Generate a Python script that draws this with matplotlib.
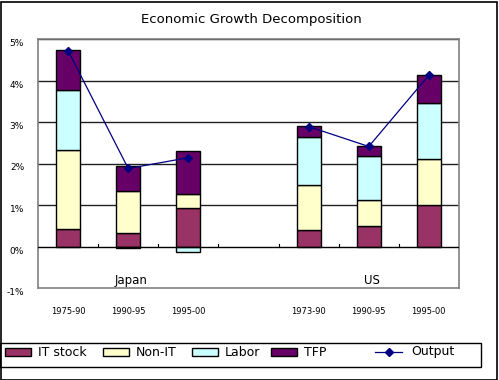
"""
    stacked growth decomposition, Japan vs US, with output line
"""

import numpy as np
import matplotlib
matplotlib.use("Agg")
from matplotlib import pyplot as plt
from matplotlib.patches import Rectangle
from matplotlib.lines import Line2D

# categories (4th slot is an empty spacer between Japan and US)
periods = ["1975-90", "1990-95", "1995-00", "", "1973-90", "1990-95", "1995-00"]
groups = ["Japan", "US"]
group_pos = [1, 5]

# contributions in % points, nan for the spacer
it_stock = [0.42, 0.32, 0.93, np.nan, 0.40, 0.49, 1.00]
non_it = [1.90, 1.01, 0.33, np.nan, 1.08, 0.63, 1.11]
labor = [1.44, -0.04, -0.13, np.nan, 1.16, 1.06, 1.35]
tfp = [0.97, 0.60, 1.04, np.nan, 0.26, 0.24, 0.67]
output = [4.72, 1.88, 2.14, np.nan, 2.89, 2.41, 4.13]

series = [("IT stock", it_stock, "#993366"),
          ("Non-IT", non_it, "#FFFFCC"),
          ("Labor", labor, "#CCFFFF"),
          ("TFP", tfp, "#660066")]

W, H = 499, 380
fig = plt.figure(figsize=(W / 100, H / 100), dpi=100)
ax = fig.add_axes([38 / W, 1 - 288 / H, 421 / W, 249 / H])

x = np.arange(len(periods))
pos_base = np.zeros(len(x))
neg_base = np.zeros(len(x))
for name, vals, col in series:
    v = np.array(vals, dtype=float)
    ok = ~np.isnan(v)
    v0 = np.nan_to_num(v)
    bottom = np.where(v0 >= 0, pos_base, neg_base)
    ax.bar(x[ok], v0[ok], 0.4, bottom=bottom[ok], color=col,
           edgecolor="black", linewidth=1.0, zorder=3)
    pos_base = pos_base + np.where(v0 > 0, v0, 0)
    neg_base = neg_base + np.where(v0 < 0, v0, 0)

# output line, nan breaks it at the spacer
out = np.array(output, dtype=float)
ax.plot(x, out, color="#000080", lw=0.9, marker="D", ms=4, zorder=5)

ax.set_xlim(-0.5, len(x) - 0.5)
ax.set_ylim(-1, 5)
ax.set_yticks(range(-1, 6))
ax.set_yticklabels(["%d%%" % v for v in range(-1, 6)], fontsize=6.5)
ax.tick_params(axis="y", length=0, pad=10)
for lab in ax.get_yticklabels():
    lab.set_verticalalignment("top")
ax.set_xticks([])
for g in range(1, 6):
    ax.axhline(g, color="#202020", lw=1.0, zorder=1)
ax.axhline(0, color="black", lw=1.0, zorder=4)
# category boundary ticks on the zero line
for b in np.arange(0.5, len(x) - 0.5, 1.0):
    ax.plot([b, b], [0, 0.06], color="black", lw=0.8, zorder=4)
for s in ax.spines.values():
    s.set_color("#808080")
    s.set_linewidth(1.2)

for gx, gname in zip(group_pos, groups):
    ax.text(gx + 0.05, -0.82, gname, ha="center", va="center", fontsize=8.5)

for xi, p in zip(x, periods):
    fig.text((38 + 60.1 * (xi + 0.5)) / W, 1 - 311 / H, p, ha="center",
             va="center", fontsize=6)

fig.text(251 / W, 1 - 20 / H, "Economic Growth Decomposition",
         ha="center", va="center", fontsize=9.5)

# legend drawn by hand to get the Excel spacing
fig.patches.append(Rectangle((0, 1 - 367 / H), 481 / W, 24 / H,
                             transform=fig.transFigure, fill=False,
                             edgecolor="black", lw=1.0))
ly = 1 - 352 / H
patch_x = [5, 103, 192, 271]
for px, (name, vals, col) in zip(patch_x, series):
    fig.patches.append(Rectangle((px / W, ly - 4 / H), 26 / W, 8 / H,
                                 transform=fig.transFigure,
                                 facecolor=col, edgecolor="black", lw=1.0))
    fig.text((px + 33) / W, ly, name, ha="left", va="center", fontsize=9)
fig.lines.append(Line2D([375 / W, 402 / W], [ly, ly],
                        transform=fig.transFigure, color="#000080", lw=0.9))
fig.lines.append(Line2D([388.5 / W], [ly], transform=fig.transFigure,
                        color="#000080", marker="D", ms=4))
fig.text(411 / W, ly, "Output", ha="left", va="center", fontsize=9)

fig.patches.append(Rectangle((0.5 / W, 0.5 / H), 1 - 2.5 / W, 1 - 2.5 / H,
                             transform=fig.transFigure, fill=False,
                             edgecolor="black", lw=1.2))

fig.savefig("out.png", dpi=100)
